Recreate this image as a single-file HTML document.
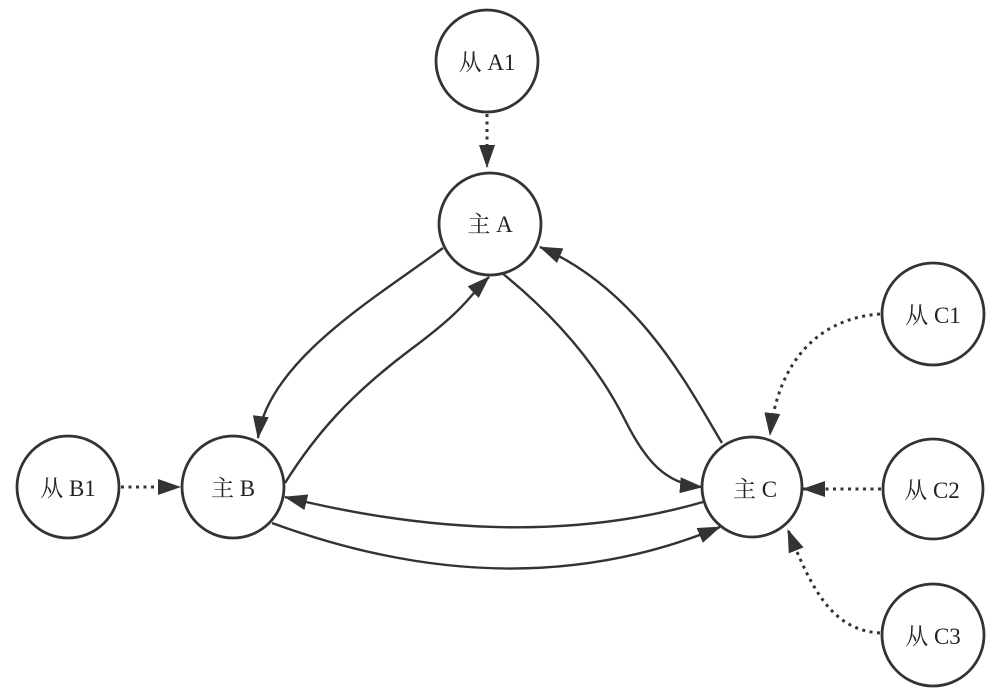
<!DOCTYPE html>
<html><head><meta charset="utf-8"><style>
html,body{margin:0;padding:0;background:#fff;}
svg{display:block;}
text{font-family:"Liberation Serif","Noto Serif CJK SC","Noto Sans CJK SC",serif;font-size:23px;fill:#222;}
</style></head><body>
<svg width="1000" height="696" viewBox="0 0 1000 696" xmlns="http://www.w3.org/2000/svg">
<defs>
<marker id="ah" markerUnits="userSpaceOnUse" viewBox="0 0 23 16" markerWidth="23" markerHeight="16" refX="22" refY="8" orient="auto">
<path d="M0,0 L23,8 L0,16 z" fill="#333"/>
</marker>
</defs>
<g fill="#fff" stroke="#333" stroke-width="2.8">
<circle cx="487" cy="61" r="51"/>
<circle cx="490" cy="224" r="51"/>
<circle cx="233" cy="487" r="51"/>
<circle cx="68" cy="487" r="51"/>
<circle cx="752" cy="487" r="50"/>
<circle cx="933" cy="314" r="51"/>
<circle cx="933" cy="489" r="50"/>
<circle cx="933" cy="635" r="51"/>
</g>
<g fill="none" stroke="#333" stroke-width="3" stroke-dasharray="3 4.5">
<path d="M487,114 L487,167" marker-end="url(#ah)"/>
<path d="M121,487 L180,487" marker-end="url(#ah)"/>
<path d="M881,489 L803,489" marker-end="url(#ah)"/>
<path d="M880,314 C820,318 778,360 770,435" marker-end="url(#ah)"/>
<path d="M880,633 C832,630 812,590 788,530" marker-end="url(#ah)"/>
</g>
<g fill="none" stroke="#333" stroke-width="2.4">
<path d="M443,248 C380,295 268,360 258,438" marker-end="url(#ah)"/>
<path d="M285,483 C315,435 350,395 410,350 S465,300 489,277" marker-end="url(#ah)"/>
<path d="M502,273 C560,320 600,370 625,420 C645,460 665,484 702,487" marker-end="url(#ah)"/>
<path d="M722,443 C690,390 640,290 540,247" marker-end="url(#ah)"/>
<path d="M703,502 Q520,555 285,497" marker-end="url(#ah)"/>
<path d="M272,523 Q515,612 720,527" marker-end="url(#ah)"/>
</g>
<g text-anchor="middle">
<text x="487" y="70">从 A1</text>
<text x="490" y="232">主 A</text>
<text x="233" y="496">主 B</text>
<text x="68" y="496">从 B1</text>
<text x="755" y="497">主 C</text>
<text x="933" y="323">从 C1</text>
<text x="932" y="498">从 C2</text>
<text x="933" y="644">从 C3</text>
</g>
</svg>
</body></html>
